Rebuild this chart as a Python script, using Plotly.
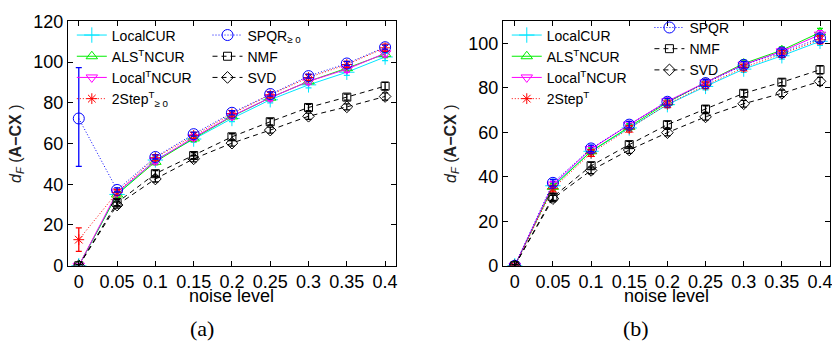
import plotly.graph_objects as go

noise = [0, 0.05, 0.1, 0.15, 0.2, 0.25, 0.3, 0.35, 0.4]

# ---- panel (a) ----
a_localcur = [0, 35.0, 51.9, 62.2, 72.3, 81.5, 88.8, 95.0, 102.5]
a_als = [0, 35.0, 51.0, 62.5, 73.3, 82.5, 90.5, 97.0, 104.0]
a_localt = [0, 36.0, 51.5, 63.0, 73.5, 82.5, 90.5, 96.5, 104.3]
a_2step = [12.8, 36.0, 53.0, 64.0, 74.6, 83.9, 92.4, 98.8, 107.0]
a_spqr = [72.3, 37.2, 53.4, 64.6, 75.1, 84.3, 93.1, 99.3, 107.3]
a_nmf = [0, 31.0, 45.2, 54.1, 63.3, 70.7, 77.7, 82.8, 88.2]
a_svd = [0, 29.8, 42.6, 52.5, 60.2, 66.6, 73.4, 78.0, 83.1]
a_err_small = [0.5, 1.5, 1.5, 1.5, 1.5, 1.5, 1.5, 1.5, 1.8]
a_err_2step = [5.8, 1.5, 1.5, 1.5, 1.5, 1.5, 1.5, 1.5, 1.8]
a_err_spqr_plus = [25.0, 1.0, 1.0, 1.0, 1.0, 1.0, 1.0, 1.0, 1.0]
a_err_spqr_minus = [23.5, 1.0, 1.0, 1.0, 1.0, 1.0, 1.0, 1.0, 1.0]

# ---- panel (b) ----
b_localcur = [0, 36.0, 51.5, 62.0, 72.5, 80.7, 88.5, 94.5, 101.0]
b_als = [0, 35.5, 51.5, 62.5, 73.5, 82.5, 91.0, 97.0, 105.0]
b_localt = [0, 36.5, 52.5, 63.5, 74.0, 82.5, 90.5, 96.5, 104.0]
b_2step = [0, 34.7, 50.7, 61.6, 72.7, 81.2, 89.2, 95.3, 101.7]
b_spqr = [0, 37.3, 52.8, 63.5, 73.8, 82.2, 90.4, 96.0, 102.4]
b_nmf = [0, 30.9, 45.0, 54.5, 63.5, 70.5, 77.6, 82.6, 88.2]
b_svd = [0, 30.2, 42.9, 52.1, 59.9, 67.0, 72.9, 77.6, 83.0]
b_err_small = [0.5, 1.5, 1.5, 1.5, 1.5, 1.5, 1.5, 1.5, 1.8]

x_ticks = [0, 0.05, 0.1, 0.15, 0.2, 0.25, 0.3, 0.35, 0.4]
x_ticklabels = ["0", "0.05", "0.1", "0.15", "0.2", "0.25", "0.3", "0.35", "0.4"]
a_yticks = [0, 20, 40, 60, 80, 100, 120]
b_yticks = [0, 20, 40, 60, 80, 100]

W, H = 832, 355
FONT = "Liberation Sans, Arial, Helvetica, sans-serif"
SERIF = "Liberation Serif, DejaVu Serif, serif"

fig = go.Figure()


def add(xax, yax, y, name, color, symbol, dash, legend, err=None, errm=None, size=9, lw=1.0):
    ed = None
    if err is not None:
        ed = dict(type="data", array=err, arrayminus=errm if errm is not None else err,
                  color=color, thickness=1.3, width=3, visible=True)
    fig.add_trace(go.Scatter(
        x=noise, y=y, name=name, xaxis=xax, yaxis=yax, legend=legend,
        mode="lines+markers",
        line=dict(color=color, width=lw, dash=dash),
        marker=dict(symbol=symbol, size=size, color=color, line=dict(color=color, width=1)),
        error_y=ed,
    ))


CY, GR, MG, RD, BL, BK = "#00e5ff", "#00ee00", "#ff00ff", "#ff0000", "#0000ff", "#000000"
DOT = "1px,2px"
DASH = "5px,4px"

# panel a
add("x", "y", a_localcur, "LocalCUR", CY, "cross-thin-open", "solid", "legend", a_err_small, size=11)
add("x", "y", a_als, "ALS<sup>T</sup>NCUR", GR, "triangle-up-open", "solid", "legend", a_err_small, size=10)
add("x", "y", a_localt, "Local<sup>T</sup>NCUR", MG, "triangle-down-open", "solid", "legend", a_err_small, size=10)
add("x", "y", a_2step, "2Step<sup>T</sup><sub>≥ 0</sub>", RD, "asterisk-open", DOT, "legend", a_err_2step, size=9)
add("x", "y", a_spqr, "SPQR<sub>≥ 0</sub>", BL, "circle-open", DOT, "legend2", a_err_spqr_plus, a_err_spqr_minus, size=11)
add("x", "y", a_nmf, "NMF", BK, "square-open", DASH, "legend2", a_err_small, size=8)
add("x", "y", a_svd, "SVD", BK, "diamond-open", DASH, "legend2", a_err_small, size=9)

# panel b
add("x2", "y2", b_localcur, "LocalCUR", CY, "cross-thin-open", "solid", "legend3", b_err_small, size=11)
add("x2", "y2", b_als, "ALS<sup>T</sup>NCUR", GR, "triangle-up-open", "solid", "legend3", b_err_small, size=10)
add("x2", "y2", b_localt, "Local<sup>T</sup>NCUR", MG, "triangle-down-open", "solid", "legend3", b_err_small, size=10)
add("x2", "y2", b_2step, "2Step<sup>T</sup>", RD, "asterisk-open", DOT, "legend3", b_err_small, size=9)
add("x2", "y2", b_spqr, "SPQR", BL, "circle-open", DOT, "legend4", b_err_small, size=11)
add("x2", "y2", b_nmf, "NMF", BK, "square-open", DASH, "legend4", b_err_small, size=8)
add("x2", "y2", b_svd, "SVD", BK, "diamond-open", DASH, "legend4", b_err_small, size=9)


def px_x(p):
    return p / W


def px_y(p):
    return 1 - p / H


axis_common = dict(showline=True, linecolor="black", linewidth=1, mirror="ticks",
                   ticks="inside", ticklen=5, tickcolor="black", showgrid=False,
                   zeroline=False, ticklabeloverflow="allow",
                   tickfont=dict(family=FONT, size=18, color="black"))

ydom = [px_y(271), px_y(12)]
fig.update_layout(
    width=W, height=H, margin=dict(l=0, r=0, t=0, b=0),
    paper_bgcolor="white", plot_bgcolor="white",
    font=dict(family=FONT, color="black"),
    xaxis=dict(domain=[px_x(68), px_x(397)], range=[-0.0143, 0.4143],
               tickvals=x_ticks, ticktext=x_ticklabels, anchor="y", **axis_common),
    yaxis=dict(domain=ydom, range=[0, 120], tickvals=a_yticks, anchor="x", **axis_common),
    xaxis2=dict(domain=[px_x(504), 1.0], range=[-0.0157, 0.4131],
                tickvals=x_ticks, ticktext=x_ticklabels, anchor="y2", **axis_common),
    yaxis2=dict(domain=ydom, range=[0, 110], tickvals=b_yticks, anchor="x2", **axis_common),
    showlegend=True,
)

leg_common = dict(bgcolor="rgba(0,0,0,0)", font=dict(family=FONT, size=14, color="black"),
                  xanchor="left", yanchor="top", traceorder="normal", itemwidth=30,
                  tracegroupgap=0)
fig.update_layout(
    legend=dict(x=px_x(72), y=px_y(10), **leg_common),
    legend2=dict(x=px_x(208), y=px_y(10), **leg_common),
    legend3=dict(x=px_x(508), y=px_y(10), **leg_common),
    legend4=dict(x=px_x(651), y=px_y(2), **leg_common),
)

ytitle = "<i>d</i><sub><i>F</i></sub> (<b>A−CX</b> )"
ann = []
for xc, xl in [(16, 232), (452, 668)]:
    ann.append(dict(x=px_x(xc), y=px_y(142), xref="paper", yref="paper", text=ytitle,
                    xanchor="center", yanchor="middle",
                    showarrow=False, textangle=-90, font=dict(family=FONT, size=16, color="#222")))
    ann.append(dict(x=px_x(xl), y=px_y(303), xref="paper", yref="paper", text="noise level",
                    xanchor="center", yanchor="middle",
                    showarrow=False, font=dict(family=FONT, size=18, color="black")))
for xc, cap in [(202, "(a)"), (638, "(b)")]:
    ann.append(dict(x=px_x(xc), y=px_y(338), xref="paper", yref="paper", text=cap,
                    xanchor="center", yanchor="middle",
                    showarrow=False, font=dict(family=SERIF, size=22, color="black")))
fig.update_layout(annotations=ann)

fig.write_html("out.html")
